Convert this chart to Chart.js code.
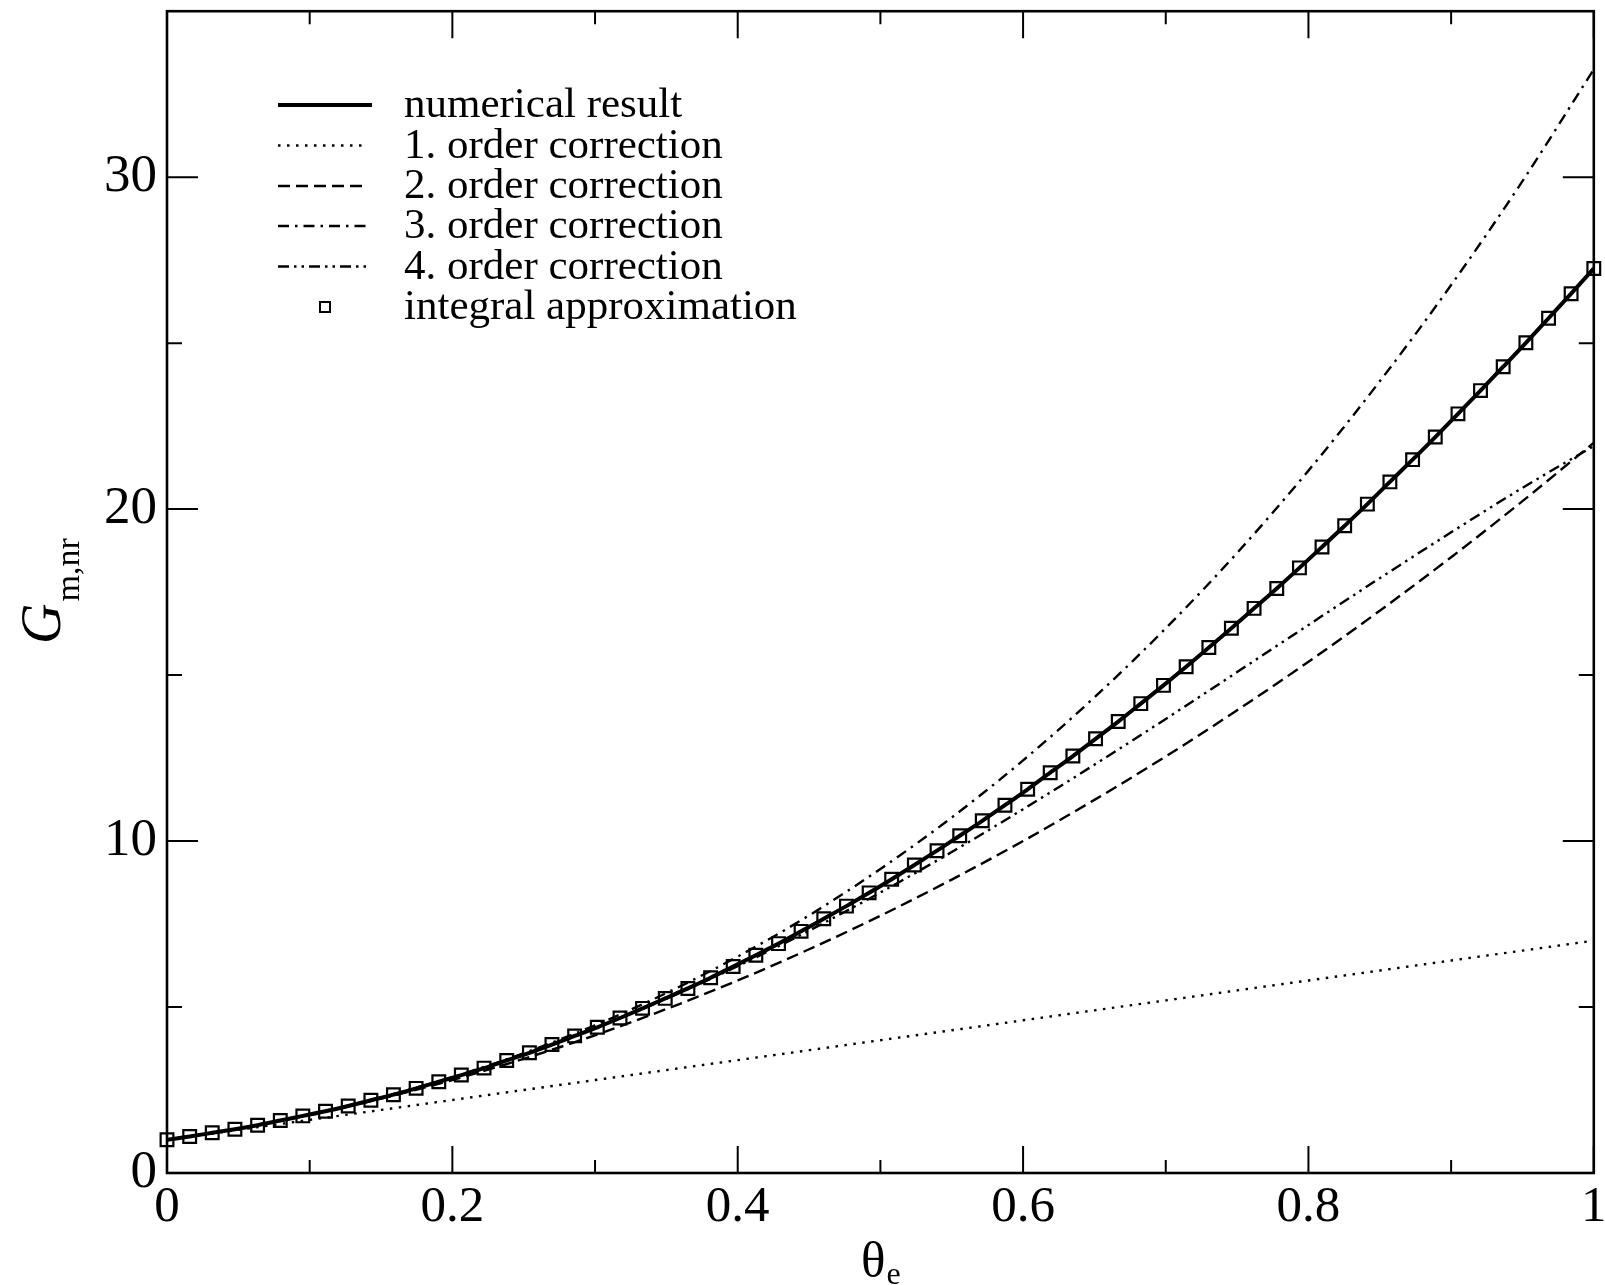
<!DOCTYPE html>
<html>
<head>
<meta charset="utf-8">
<script src="https://cdn.jsdelivr.net/npm/chart.js@4.4.1/dist/chart.umd.min.js"></script>
<style>
  html, body { margin: 0; padding: 0; background: #fff; }
  #wrap { width: 1605px; height: 1285px; }
</style>
</head>
<body>
<div id="wrap"><canvas id="chart" width="1605" height="1285"></canvas></div>
<script>
// Données
const thetaFine = [0, 0.0159, 0.0317, 0.0476, 0.0635, 0.0794, 0.0952, 0.1111, 0.1270, 0.1429,
    0.1587, 0.1746, 0.1905, 0.2063, 0.2222, 0.2381, 0.2540, 0.2698, 0.2857, 0.3016,
    0.3175, 0.3333, 0.3492, 0.3651, 0.3810, 0.3968, 0.4127, 0.4286, 0.4444, 0.4603,
    0.4762, 0.4921, 0.5079, 0.5238, 0.5397, 0.5556, 0.5714, 0.5873, 0.6032, 0.6190,
    0.6349, 0.6508, 0.6667, 0.6825, 0.6984, 0.7143, 0.7302, 0.7460, 0.7619, 0.7778,
    0.7937, 0.8095, 0.8254, 0.8413, 0.8571, 0.8730, 0.8889, 0.9048, 0.9206, 0.9365,
    0.9524, 0.9683, 0.9841, 1];
const gNumerical = [1.00, 1.10, 1.21, 1.32, 1.44, 1.58, 1.72, 1.86, 2.02, 2.19,
    2.36, 2.55, 2.75, 2.95, 3.16, 3.39, 3.62, 3.87, 4.13, 4.39,
    4.67, 4.96, 5.26, 5.56, 5.88, 6.22, 6.56, 6.91, 7.28, 7.66,
    8.04, 8.44, 8.85, 9.28, 9.71, 10.16, 10.61, 11.08, 11.56, 12.06,
    12.56, 13.08, 13.60, 14.14, 14.69, 15.25, 15.83, 16.41, 17.01, 17.61,
    18.23, 18.86, 19.50, 20.15, 20.82, 21.49, 22.17, 22.87, 23.57, 24.29,
    25.01, 25.75, 26.49, 27.25];
const gIntegral = gNumerical;

const thetaCoarse = [0, 0.05, 0.1, 0.15, 0.2, 0.25, 0.3, 0.35, 0.4, 0.45, 0.5,
    0.55, 0.6, 0.65, 0.7, 0.75, 0.8, 0.85, 0.9, 0.95, 1];
const gOrder1 = [1, 1.3, 1.6, 1.9, 2.2, 2.5, 2.8, 3.1, 3.4, 3.7, 4.0,
    4.3, 4.6, 4.9, 5.2, 5.5, 5.8, 6.1, 6.4, 6.7, 7.0];
const gOrder2 = [1, 1.34, 1.75, 2.24, 2.8, 3.44, 4.15, 4.94, 5.8, 6.74, 7.75,
    8.84, 10.0, 11.24, 12.55, 13.94, 15.4, 16.94, 18.55, 20.24, 22.0];
const gOrder3 = [1, 1.34, 1.76, 2.28, 2.89, 3.61, 4.45, 5.42, 6.52, 7.76, 9.16,
    10.71, 12.43, 14.33, 16.41, 18.68, 21.16, 23.85, 26.75, 29.88, 33.25];
const gOrder4 = [1, 1.34, 1.76, 2.27, 2.87, 3.57, 4.36, 5.25, 6.23, 7.30, 8.45,
    9.67, 10.96, 12.30, 13.68, 15.09, 16.51, 17.92, 19.30, 20.64, 21.90];

const xTicks = [0, 0.2, 0.4, 0.6, 0.8, 1];
const xTickLabels = ['0', '0.2', '0.4', '0.6', '0.8', '1'];
const xMinorTicks = [0.1, 0.3, 0.5, 0.7, 0.9];
const yTicks = [0, 10, 20, 30];
const yTickLabels = ['0', '10', '20', '30'];
const yMinorTicks = [5, 15, 25];
const seriesLabels = ['numerical result', '1. order correction', '2. order correction',
    '3. order correction', '4. order correction', 'integral approximation'];

const SERIF = '"Liberation Serif", "Times New Roman", serif';

// styles de trait : plein, pointillé, tirets, tiret-point, tiret-point-point
const dashes = [[], [2.5, 6.5], [12, 6], [11, 6, 2.5, 6], [11, 5, 2.5, 5, 2.5, 5]];
const widths = [4, 2.4, 2.4, 2.4, 2.4];

function lineDataset(i, xs, ys) {
    return {
        label: seriesLabels[i],
        data: xs.map(function(x, k) { return { x: x, y: ys[k] }; }),
        borderColor: '#000',
        borderWidth: widths[i],
        borderDash: dashes[i],
        borderCapStyle: 'butt',
        pointRadius: 0,
        fill: false,
        cubicInterpolationMode: 'monotone'
    };
}

// Cadre + graduations vers l'intérieur sur les quatre côtés
const framePlugin = {
    id: 'frame',
    afterDraw(chart) {
        const ctx = chart.ctx;
        const a = chart.chartArea;
        const x = chart.scales.x, y = chart.scales.y;
        ctx.save();
        ctx.strokeStyle = '#000';
        ctx.lineWidth = 2;
        ctx.beginPath();
        function xt(v, len) {
            const px = x.getPixelForValue(v);
            ctx.moveTo(px, a.bottom); ctx.lineTo(px, a.bottom - len);
            ctx.moveTo(px, a.top); ctx.lineTo(px, a.top + len);
        }
        function yt(v, len) {
            const py = y.getPixelForValue(v);
            ctx.moveTo(a.left, py); ctx.lineTo(a.left + len, py);
            ctx.moveTo(a.right, py); ctx.lineTo(a.right - len, py);
        }
        xTicks.forEach(function(v) { xt(v, 27); });
        xMinorTicks.forEach(function(v) { xt(v, 13); });
        yTicks.forEach(function(v) { yt(v, 31); });
        yMinorTicks.forEach(function(v) { yt(v, 15); });
        ctx.stroke();
        ctx.lineWidth = 2.6;
        ctx.strokeRect(a.left, a.top, a.right - a.left, a.bottom - a.top);
        ctx.restore();
    }
};

// Titres des axes avec indices
const titlesPlugin = {
    id: 'titles',
    afterDraw(chart) {
        const ctx = chart.ctx;
        const a = chart.chartArea;
        ctx.save();
        ctx.fillStyle = '#000';
        ctx.textBaseline = 'alphabetic';
        ctx.textAlign = 'left';

        // θe
        ctx.font = '51px ' + SERIF;
        const wT = ctx.measureText('θ').width;
        ctx.font = '32px ' + SERIF;
        const wE = ctx.measureText('e').width;
        const cx = (a.left + a.right) / 2;
        let x0 = cx - (wT + wE) / 2;
        ctx.font = '51px ' + SERIF;
        ctx.fillText('θ', x0, 1277);
        ctx.font = '32px ' + SERIF;
        ctx.fillText('e', x0 + wT + 1, 1284);

        // G m,nr
        ctx.translate(60, (a.top + a.bottom) / 2);
        ctx.rotate(-Math.PI / 2);
        ctx.font = 'italic 56px ' + SERIF;
        const wG = ctx.measureText('G').width;
        ctx.font = '34px ' + SERIF;
        const wS = ctx.measureText('m,nr').width;
        const u0 = -(wG + wS) / 2;
        ctx.font = 'italic 56px ' + SERIF;
        ctx.fillText('G', u0, 0);
        ctx.font = '34px ' + SERIF;
        ctx.fillText('m,nr', u0 + wG + 2, 19);
        ctx.restore();
    }
};

// Légende dessinée à la main (échantillons de traits)
const legendPlugin = {
    id: 'customLegend',
    afterDraw(chart) {
        const ctx = chart.ctx;
        const rows = [105, 145.5, 186, 226, 266.5, 307];
        ctx.save();
        ctx.strokeStyle = '#000';
        ctx.fillStyle = '#000';
        ctx.font = '43px ' + SERIF;
        ctx.textBaseline = 'middle';
        ctx.textAlign = 'left';
        for (let i = 0; i < 5; i++) {
            ctx.beginPath();
            ctx.lineWidth = widths[i];
            ctx.setLineDash(dashes[i]);
            ctx.lineCap = 'butt';
            ctx.moveTo(278, rows[i]);
            ctx.lineTo(i === 0 ? 372 : 367, rows[i]);
            ctx.stroke();
        }
        ctx.setLineDash([]);
        ctx.lineWidth = 2;
        ctx.strokeRect(320, rows[5] - 5, 10, 10);
        seriesLabels.forEach(function(t, i) {
            ctx.fillText(t, 404, rows[i] + 1);
        });
        ctx.restore();
    }
};

const ctx = document.getElementById('chart');
new Chart(ctx, {
    type: 'line',
    data: {
        datasets: [
            lineDataset(0, thetaFine, gNumerical),
            lineDataset(1, thetaCoarse, gOrder1),
            lineDataset(2, thetaCoarse, gOrder2),
            lineDataset(3, thetaCoarse, gOrder3),
            lineDataset(4, thetaCoarse, gOrder4),
            {
                label: seriesLabels[5],
                data: thetaFine.map(function(x, k) { return { x: x, y: gIntegral[k] }; }),
                showLine: false,
                pointStyle: 'rect',
                pointRadius: 9,
                pointBorderWidth: 2.2,
                pointBorderColor: '#000',
                pointBackgroundColor: 'rgba(0,0,0,0)',
                clip: false
            }
        ]
    },
    options: {
        responsive: false,
        devicePixelRatio: 1,
        animation: false,
        layout: { padding: { top: 10, right: 6, left: 0, bottom: 0 } },
        plugins: {
            legend: { display: false },
            tooltip: { enabled: false }
        },
        scales: {
            x: {
                type: 'linear',
                min: 0,
                max: 1,
                grid: { display: false, drawTicks: false },
                border: { display: false },
                afterBuildTicks: function(s) { s.ticks = xTicks.map(function(v) { return { value: v }; }); },
                afterFit: function(s) { s.height = 112; s.paddingLeft = 0; s.paddingRight = 0; },
                ticks: {
                    autoSkip: false,
                    maxRotation: 0,
                    padding: 4,
                    color: '#000',
                    font: { family: SERIF, size: 51 },
                    callback: function(v) { return xTickLabels[xTicks.indexOf(v)]; }
                }
            },
            y: {
                type: 'linear',
                min: 0,
                max: 35,
                grid: { display: false, drawTicks: false },
                border: { display: false },
                afterBuildTicks: function(s) { s.ticks = yTicks.map(function(v) { return { value: v }; }); },
                afterFit: function(s) { s.width = 167; s.paddingTop = 0; s.paddingBottom = 0; },
                ticks: {
                    autoSkip: false,
                    padding: 10,
                    color: '#000',
                    font: { family: SERIF, size: 53 },
                    callback: function(v) { return yTickLabels[yTicks.indexOf(v)]; }
                }
            }
        }
    },
    plugins: [framePlugin, titlesPlugin, legendPlugin]
});
</script>
</body>
</html>
